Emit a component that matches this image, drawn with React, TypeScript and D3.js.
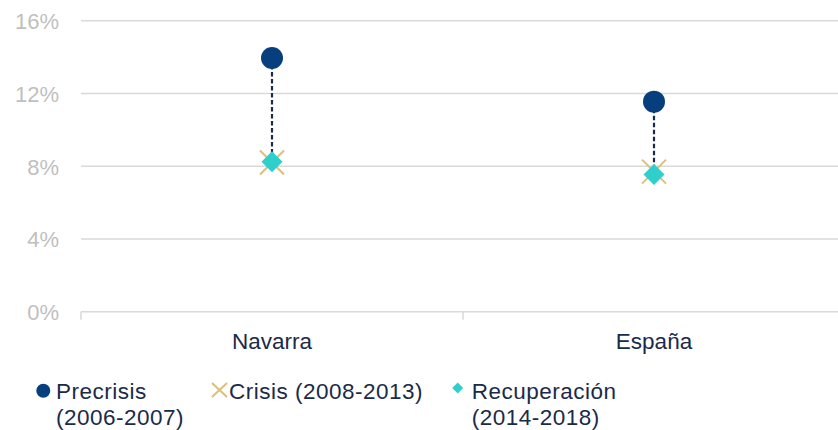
import React from "react";
import * as d3 from "d3";

const categories = ["Navarra", "España"];
const precrisis = [13.95, 11.55];
const crisis = [8.2, 7.7];
const recuperacion = [8.25, 7.55];
const yTicks = [0, 4, 8, 12, 16];
const legendItems = [
  { key: "pre", lines: ["Precrisis", "(2006-2007)"] },
  { key: "cri", lines: ["Crisis (2008-2013)"] },
  { key: "rec", lines: ["Recuperación", "(2014-2018)"] },
];

const W = 838;
const H = 430;
const FONT = "'Liberation Sans', Arial, sans-serif";
const C_PRE = "#073f7e";
const C_CRI = "#dcc07a";
const C_REC = "#2fcfcc";
const C_TEXT = "#1b2a4a";
const C_GRID = "#d9d9d9";
const C_TICK = "#bfbfbf";

export default function App() {
  const x = d3.scaleBand<string>().domain(categories).range([81, 845]).padding(0);
  const y = d3.scaleLinear().domain([0, 16]).range([311.7, 20.7]);
  const cx = (c: string) => (x(c) as number) + x.bandwidth() / 2;

  const legendPos = [
    { mx: 43.3, my: 390.7, tx: 56 },
    { mx: 219.5, my: 390, tx: 229 },
    { mx: 457.7, my: 388, tx: 471.7 },
  ];

  return (
    <svg width={W} height={H} style={{ position: "absolute", left: 0, top: 0 }} fontFamily={FONT}>
      {yTicks.map((t) => (
        <g key={t}>
          <line x1={81} x2={845} y1={y(t)} y2={y(t)} stroke={C_GRID} strokeWidth={1.5} />
          <text x={59} y={y(t) + 8.3} textAnchor="end" fontSize={22} fill={C_TICK}>
            {t}%
          </text>
        </g>
      ))}
      {[81, 81 + x.bandwidth(), 845].map((tx, i) => (
        <line key={i} x1={tx} x2={tx} y1={y(0)} y2={y(0) + 8} stroke={C_GRID} strokeWidth={1.5} />
      ))}
      {categories.map((c) => (
        <text key={c} x={cx(c)} y={349.3} textAnchor="middle" fontSize={22.5} fill={C_TEXT}>
          {c}
        </text>
      ))}
      {categories.map((c, i) => {
        const px = cx(c);
        const s = 12;
        const cy = y(crisis[i]);
        const ry = y(recuperacion[i]);
        const d = 10.5;
        return (
          <g key={c}>
            <line x1={px} x2={px} y1={y(precrisis[i])} y2={ry} stroke={C_TEXT} strokeWidth={2.2} strokeDasharray="4.5,2.5" />
            <path d={`M${px - s},${cy - s}L${px + s},${cy + s}M${px - s},${cy + s}L${px + s},${cy - s}`} stroke={C_CRI} strokeWidth={2} />
            <path d={`M${px},${ry - d}L${px + d},${ry}L${px},${ry + d}L${px - d},${ry}Z`} fill={C_REC} />
            <circle cx={px} cy={y(precrisis[i])} r={11} fill={C_PRE} />
          </g>
        );
      })}
      {legendItems.map((item, i) => {
        const p = legendPos[i];
        let marker;
        if (item.key === "pre") marker = <circle cx={p.mx} cy={p.my} r={7} fill={C_PRE} />;
        else if (item.key === "cri")
          marker = (
            <path
              d={`M${p.mx - 7.5},${p.my - 7}L${p.mx + 7.5},${p.my + 7}M${p.mx - 7.5},${p.my + 7}L${p.mx + 7.5},${p.my - 7}`}
              stroke={C_CRI}
              strokeWidth={2}
            />
          );
        else
          marker = (
            <path
              d={`M${p.mx},${p.my - 5.5}L${p.mx + 5.5},${p.my}L${p.mx},${p.my + 5.5}L${p.mx - 5.5},${p.my}Z`}
              fill={C_REC}
            />
          );
        return (
          <g key={item.key}>
            {marker}
            {item.lines.map((l, j) => (
              <text key={j} x={p.tx} y={399 + j * 25.5} fontSize={22.5} letterSpacing={0.5} fill={C_TEXT}>
                {l}
              </text>
            ))}
          </g>
        );
      })}
    </svg>
  );
}
